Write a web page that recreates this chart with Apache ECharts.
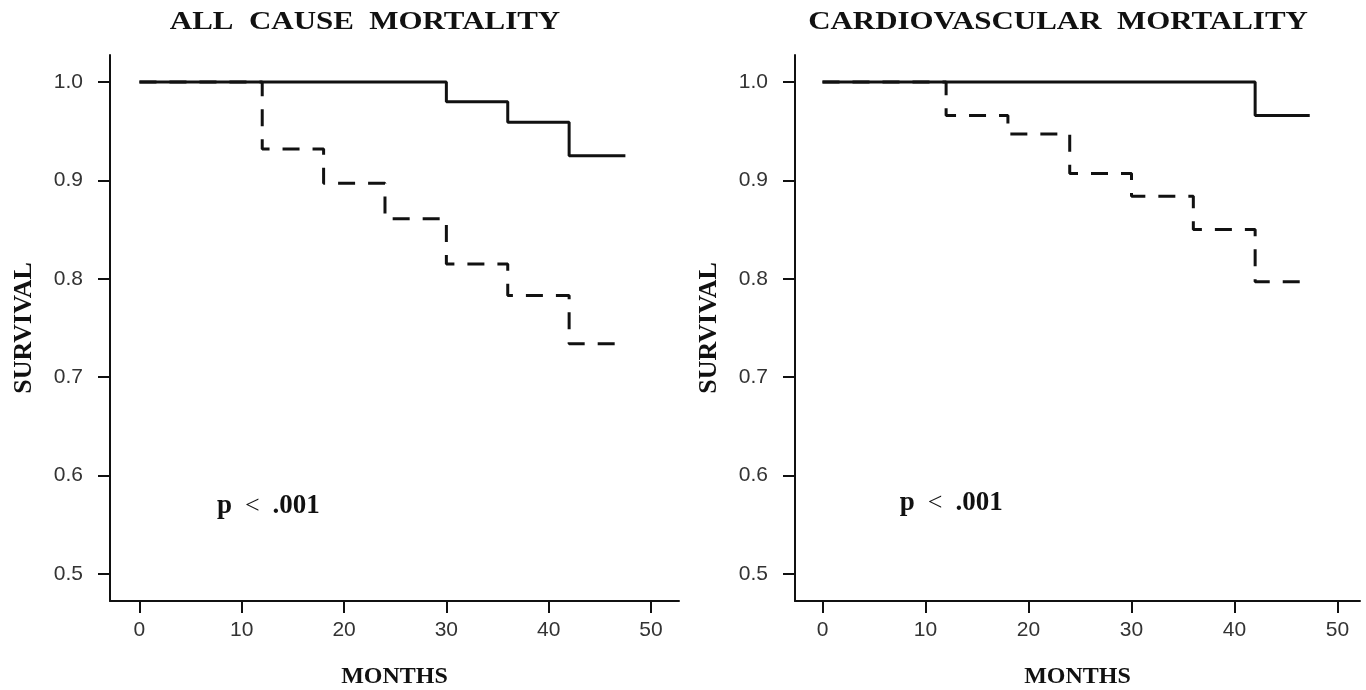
<!DOCTYPE html>
<html>
<head>
<meta charset="utf-8">
<script src="https://cdn.jsdelivr.net/npm/echarts@6/dist/echarts.min.js"></script>
<style>
html,body{margin:0;padding:0;background:#fff;}
#chart{width:1366px;height:690px;}
</style>
</head>
<body>
<div id="chart"></div>
<script>
// ---- data ----
const titles = ['ALL  CAUSE  MORTALITY', 'CARDIOVASCULAR  MORTALITY'];
const xTicks = [0, 10, 20, 30, 40, 50];
const yTicks = [0.5, 0.6, 0.7, 0.8, 0.9, 1.0];
const xName = 'MONTHS';
const yName = 'SURVIVAL';
const pText = 'p < .001';

// All cause mortality
const allSolidT = [0, 30, 36, 42, 47.5];
const allSolidS = [1.0, 0.980, 0.959, 0.925, 0.925];
const allDashT = [0, 12, 18, 24, 30, 36, 42, 47.5];
const allDashS = [1.0, 0.932, 0.897, 0.861, 0.815, 0.783, 0.734, 0.734];

// Cardiovascular mortality
const cvSolidT = [0, 42, 47.3];
const cvSolidS = [1.0, 0.966, 0.966];
const cvDashT = [0, 12, 18, 24, 30, 36, 42, 47.3];
const cvDashS = [1.0, 0.966, 0.947, 0.907, 0.884, 0.850, 0.797, 0.797];

const pPos = [[12.6, 0.569], [12.5, 0.572]];

// ---- chart ----
const zip = (t, s) => t.map((v, i) => [v, s[i]]);
const serif = 'Liberation Serif, Times New Roman, serif';
const sans = 'Liberation Sans, Arial, sans-serif';

function xAxis(idx, min, max) {
  return {
    type: 'value', gridIndex: idx, min: min, max: max,
    name: xName, nameLocation: 'middle', nameGap: 64,
    nameTextStyle: {fontFamily: serif, fontWeight: 'bold', fontSize: 24, color: '#111'},
    axisLine: {show: true, onZero: false, lineStyle: {color: '#111', width: 2}},
    axisTick: {show: true, length: 12, lineStyle: {color: '#111', width: 2}, customValues: xTicks},
    axisLabel: {margin: 19, fontFamily: sans, fontSize: 21, color: '#333', customValues: xTicks},
    splitLine: {show: false}
  };
}
function yAxis(idx) {
  return {
    type: 'value', gridIndex: idx, min: 0.4726, max: 1.0274,
    name: yName, nameLocation: 'middle', nameGap: 73, nameRotate: 90,
    nameTextStyle: {fontFamily: serif, fontWeight: 'bold', fontSize: 26, color: '#111'},
    axisLine: {show: true, onZero: false, lineStyle: {color: '#111', width: 2}},
    axisTick: {show: true, length: 12, lineStyle: {color: '#111', width: 2}, customValues: yTicks},
    axisLabel: {margin: 27, fontFamily: sans, fontSize: 21, color: '#333', customValues: yTicks,
      formatter: v => v.toFixed(1)},
    splitLine: {show: false}
  };
}
function dashSeries(idx, data, p) {
  return {
    type: 'line', xAxisIndex: idx, yAxisIndex: idx, step: 'end', data: data,
    showSymbol: false, symbol: 'none', animation: false, silent: true, z: 2,
    lineStyle: {color: '#111', width: 3, type: [17, 13]},
    markPoint: {
      symbol: 'circle', symbolSize: 0, silent: true, animation: false,
      label: {show: true, position: 'inside', formatter: '{b|p}{n|  <  }{b|.001}',
        rich: {
          b: {fontFamily: serif, fontWeight: 'bold', fontSize: 27, color: '#111'},
          n: {fontFamily: serif, fontWeight: 'normal', fontSize: 26, color: '#111'}
        }},
      data: [{coord: p, value: pText}]
    }
  };
}
function solidSeries(idx, data) {
  return {
    type: 'line', xAxisIndex: idx, yAxisIndex: idx, step: 'end', data: data,
    showSymbol: false, symbol: 'none', animation: false, silent: true, z: 3,
    lineStyle: {color: '#111', width: 3, type: 'solid'}
  };
}
function titleText(txt, cx) {
  return {
    type: 'text', x: cx, y: 22, scaleX: 1.19, scaleY: 1, silent: true,
    style: {text: txt, align: 'center', verticalAlign: 'middle',
      fontFamily: serif, fontWeight: 'bold', fontSize: 26, fill: '#111'}
  };
}

const chart = echarts.init(document.getElementById('chart'), null, {renderer: 'canvas'});
chart.setOption({
  backgroundColor: '#fff',
  animation: false,
  graphic: [titleText(titles[0], 365), titleText(titles[1], 1058)],
  grid: [
    {left: 110, right: 687, top: 55, bottom: 89, outerBoundsMode: 'none', containLabel: false},
    {left: 795, right: 6, top: 55, bottom: 89, outerBoundsMode: 'none', containLabel: false}
  ],
  xAxis: [xAxis(0, -2.88, 52.74), xAxis(1, -2.67, 52.18)],
  yAxis: [yAxis(0), yAxis(1)],
  series: [
    dashSeries(0, zip(allDashT, allDashS), pPos[0]),
    solidSeries(0, zip(allSolidT, allSolidS)),
    dashSeries(1, zip(cvDashT, cvDashS), pPos[1]),
    solidSeries(1, zip(cvSolidT, cvSolidS))
  ]
});
</script>
</body>
</html>
